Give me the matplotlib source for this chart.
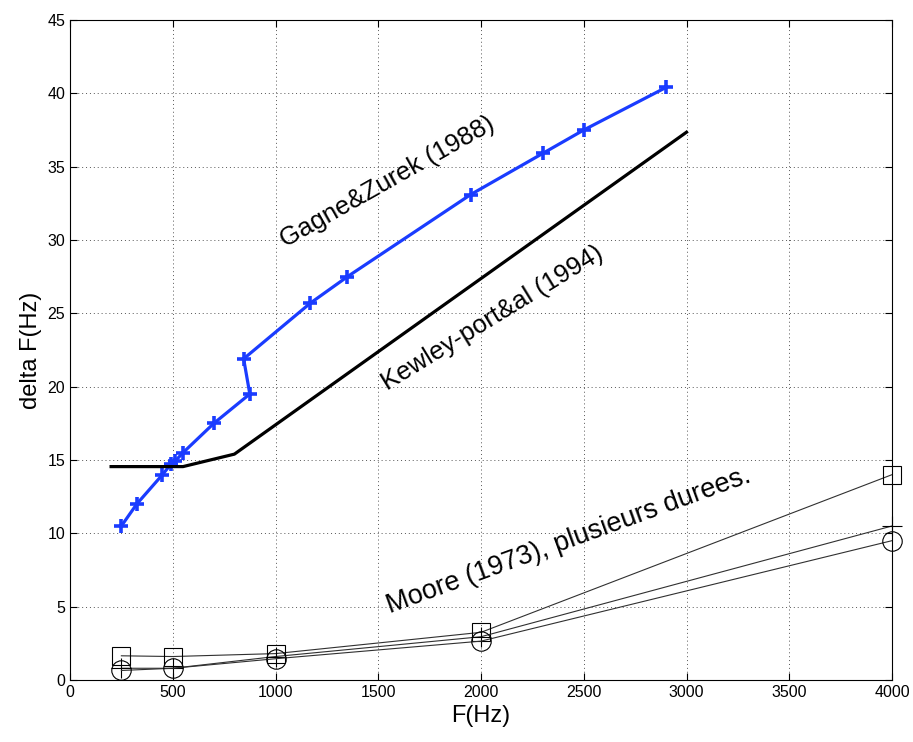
import matplotlib as mpl
import matplotlib.pyplot as plt

# Gagne & Zurek (1988)
gz_f = [250, 325, 450, 490, 510, 550, 700, 875, 845, 1170, 1350, 1950, 2300, 2500, 2900]
gz_df = [10.5, 12.0, 14.0, 14.7, 14.9, 15.5, 17.5, 19.5, 21.9, 25.7, 27.5, 33.1, 35.9, 37.5, 40.4]

# Kewley-port & al (1994)
kp_f = [200, 550, 800, 3000]
kp_df = [14.55, 14.55, 15.4, 37.35]

# Moore (1973), several durations
moore_f = [250, 500, 1000, 2000, 4000]
moore_sq = [1.65, 1.6, 1.8, 3.25, 14.0]
moore_plus = [0.8, 0.8, 1.6, 2.95, 10.5]
moore_circ = [0.65, 0.8, 1.45, 2.65, 9.5]

x_ticks = [0, 500, 1000, 1500, 2000, 2500, 3000, 3500, 4000]
y_ticks = [0, 5, 10, 15, 20, 25, 30, 35, 40, 45]

mpl.rcParams.update({'font.family': ['Liberation Sans', 'DejaVu Sans'], 'font.size': 11})
W, H = 913, 742
dpi = 100
fig = plt.figure(dpi=dpi, figsize=(W / dpi, H / dpi))
ax = fig.add_axes([70 / W, 1 - 680 / H, 822 / W, 660 / H])

ax.plot(gz_f, gz_df, color='#1a3cff', lw=2.3, marker='+', ms=10, mew=2.6)
ax.plot(kp_f, kp_df, color='black', lw=2.3)

thin = dict(color='#303030', lw=0.8, mfc='none', mec='black', mew=0.8, clip_on=False)
ax.plot(moore_f, moore_sq, marker='s', ms=13, **thin)
ax.plot(moore_f, moore_plus, marker='+', ms=15, **thin)
ax.plot(moore_f, moore_circ, marker='o', ms=14, **thin)

# label positions in pixels from the top-left corner of the image
ax.text(387 / W, 1 - 182 / H, 'Gagne&Zurek (1988)', transform=fig.transFigure,
        fontsize=18.5, rotation=29.5, ha='center', va='center')
ax.text(492 / W, 1 - 318 / H, 'Kewley-port&al (1994)', transform=fig.transFigure,
        fontsize=18.5, rotation=31.5, ha='center', va='center')
ax.text(569 / W, 1 - 541 / H, 'Moore (1973), plusieurs durees.', transform=fig.transFigure,
        fontsize=19.5, rotation=20, ha='center', va='center')

ax.set_xlim(0, 4000)
ax.set_ylim(0, 45)
ax.set_xticks(x_ticks)
ax.set_yticks(y_ticks)
ax.tick_params(direction='in', top=True, right=True, length=5, labelsize=11.5)
ax.grid(True, linestyle=(0, (1, 3)), color='#555555', lw=0.7)
ax.set_xlabel('F(Hz)', fontsize=17)
ax.set_ylabel('delta F(Hz)', fontsize=17)

fig.savefig('out.png', dpi=dpi)
